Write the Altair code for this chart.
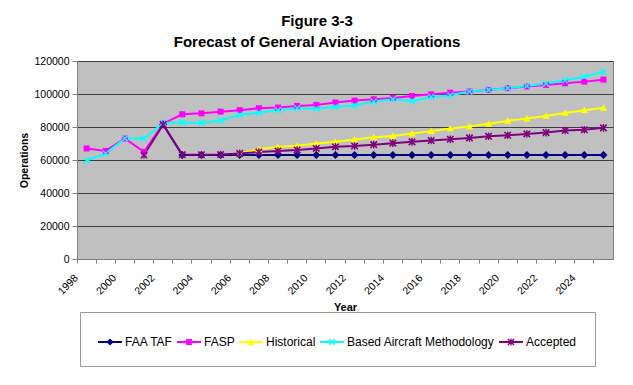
import altair as alt
import pandas as pd

years = list(range(1998, 2026))
series_names = ["FAA TAF", "FASP", "Historical", "Based Aircraft Methodology", "Accepted"]
series_colors = ["#000080", "#FF00FF", "#FFFF00", "#00FFFF", "#800080"]

faa_taf = [None, None, None, None, 81500, 63000, 63000, 63000, 63000, 63000,
           63000, 63000, 63000, 63000, 63000, 63000, 63000, 63000, 63000, 63000,
           63000, 63000, 63000, 63000, 63000, 63000, 63000, 63000]
fasp = [67000, 65500, 73000, 65000, 82000, 87700, 88300, 89300, 90200, 91400,
        91800, 92800, 93400, 94800, 96000, 96800, 97600, 98800, 99800, 100800,
        101500, 102500, 103500, 104500, 105500, 106500, 107500, 108700]
historical = [None, None, None, None, None, None, None, None, 64000, 66500,
              68000, 68600, 70000, 71000, 72400, 73800, 74600, 76000, 77500, 79100,
              80300, 81900, 83700, 85100, 86700, 88500, 90200, 91600]
based_aircraft = [59700, 64000, 73000, 73000, 82500, 82800, 82500, 84000, 87300, 88700,
                  90200, 91400, 91000, 92200, 93000, 95400, 96800, 95800, 98200, 99200,
                  101500, 102500, 103500, 104900, 106300, 108300, 110500, 113400]
accepted = [None, None, None, 63000, 81500, 63200, 63200, 63300, 64000, 64800,
            65500, 66100, 67000, 68000, 68500, 69300, 70200, 71000, 71800, 72600,
            73400, 74400, 75000, 75800, 76600, 77900, 78300, 79500]

y_ticks = [0, 20000, 40000, 60000, 80000, 100000, 120000]

rows = []
for name, vals in zip(series_names, [faa_taf, fasp, historical, based_aircraft, accepted]):
    for yr, v in zip(years, vals):
        if v is not None:
            rows.append({"year": yr, "value": v, "series": name})
df = pd.DataFrame(rows)


# ---- marker shapes (unit polygons) ----
def poly(pts, s):
    return "M" + "L".join(f"{x * s:.3f},{y * s:.3f}" for x, y in pts) + "Z"

DIAMOND = [(0, -1), (-1, 0), (0, 1), (1, 0)]
SQUARE = [(-1, -1), (-1, 1), (1, 1), (1, -1)]
TRIANGLE = [(0, -1), (-1, 0.8), (1, 0.8)]
XSHAPE = [(-1, -0.7), (-0.3, 0), (-1, 0.7), (-0.7, 1), (0, 0.3), (0.7, 1),
          (1, 0.7), (0.3, 0), (1, -0.7), (0.7, -1), (0, -0.3), (-0.7, -1)]
VBAR = [(-0.18, -1), (-0.18, 1), (0.18, 1), (0.18, -1)]
LINE = [(-1, -0.085), (-1, 0.085), (1, 0.085), (1, -0.085)]

chart_shapes = [
    poly(DIAMOND, 1.0),
    poly(SQUARE, 0.75),
    poly(TRIANGLE, 0.9),
    poly(XSHAPE, 0.85),
    poly(XSHAPE, 0.95) + poly(VBAR, 0.95),
]
legend_shapes = [
    poly(LINE, 1) + poly(DIAMOND, 0.3),
    poly(LINE, 1) + poly(SQUARE, 0.24),
    poly(LINE, 1) + poly(TRIANGLE, 0.3),
    poly(LINE, 1) + poly(XSHAPE, 0.28),
    poly(LINE, 1) + poly(XSHAPE, 0.3) + poly(VBAR, 0.3),
]

FONT = "Liberation Sans"

x_enc = alt.X(
    "year:O",
    scale=alt.Scale(type="band", paddingInner=0, paddingOuter=0),
    axis=alt.Axis(
        bandPosition=0,
        labelExpr="datum.value % 2 == 0 ? datum.label : ''",
        labelAngle=-45,
        labelAlign="right",
        labelBaseline="middle",
        labelOffset=-10,
        labelFontSize=10.5,
        labelColor="#000000",
        labelPadding=13,
        tickSize=4,
        tickColor="#808080",
        domainColor="#808080",
        grid=False,
        title="Year",
        titleFontSize=11,
        titleFontWeight="bold",
        titleColor="#000000",
        titleY=42,
    ),
)
y_enc = alt.Y(
    "value:Q",
    scale=alt.Scale(domain=[0, 120000], nice=False),
    axis=alt.Axis(
        values=y_ticks,
        format="d",
        labelFontSize=10.5,
        labelColor="#000000",
        labelPadding=3,
        tickSize=5,
        tickColor="#808080",
        domainColor="#808080",
        grid=True,
        gridColor="#404040",
        gridWidth=1,
        title="Operations",
        titleFontSize=10.5,
        titleFontWeight="bold",
        titleColor="#000000",
        titleX=-48,
        titleY=99,
    ),
)

color_scale = alt.Scale(domain=series_names, range=series_colors)

base = alt.Chart(df)

lines = base.mark_line(strokeWidth=2).encode(
    x=x_enc,
    y=y_enc,
    color=alt.Color("series:N", scale=color_scale, legend=None),
)

points = base.mark_point(filled=True, size=64, opacity=1, strokeWidth=0).encode(
    x=x_enc,
    y=y_enc,
    color=alt.Color("series:N", scale=color_scale, legend=None),
    shape=alt.Shape("series:N", scale=alt.Scale(domain=series_names, range=chart_shapes), legend=None),
)

legend_params = dict(
    title=None,
    orient="none",
    legendX=3,
    legendY=251,
    direction="horizontal",
    columns=5,
    labelFont=FONT,
    labelFontSize=12,
    labelColor="#000000",
    labelOffset=3,
    symbolSize=576,
    symbolStrokeWidth=0,
    symbolOpacity=1,
    columnPadding=4,
    padding=18,
    strokeColor="#9a9a9a",
    fillColor="#ffffff",
)

legend_layer = base.transform_filter("datum.value < 0").mark_point(
    filled=True, size=576, opacity=1, strokeWidth=0
).encode(
    x=x_enc,
    y=y_enc,
    color=alt.Color("series:N", scale=color_scale, legend=alt.Legend(**legend_params)),
    shape=alt.Shape("series:N", scale=alt.Scale(domain=series_names, range=legend_shapes),
                    legend=alt.Legend(**legend_params)),
)

chart = (
    alt.layer(lines, points, legend_layer)
    .resolve_scale(color="independent", shape="independent")
    .properties(
        width=536,
        height=198,
        autosize=alt.AutoSizeParams(type="none"),
        padding={"left": 69, "top": 53, "right": 12, "bottom": 116},
        background="#ffffff",
        title=alt.TitleParams(
            text=["Figure 3-3", "Forecast of General Aviation Operations"],
            font=FONT,
            fontSize=15,
            fontWeight="bold",
            color="#000000",
            anchor="middle",
            dx=-28,
            offset=6,
            lineHeight=21,
        ),
    )
    .configure(font=FONT)
    .configure_view(fill="#C0C0C0", stroke="#808080", strokeWidth=1)
    .configure_axis(labelFont=FONT, titleFont=FONT)
)

chart.save("out.html", embed_options={"renderer": "svg", "actions": False})
